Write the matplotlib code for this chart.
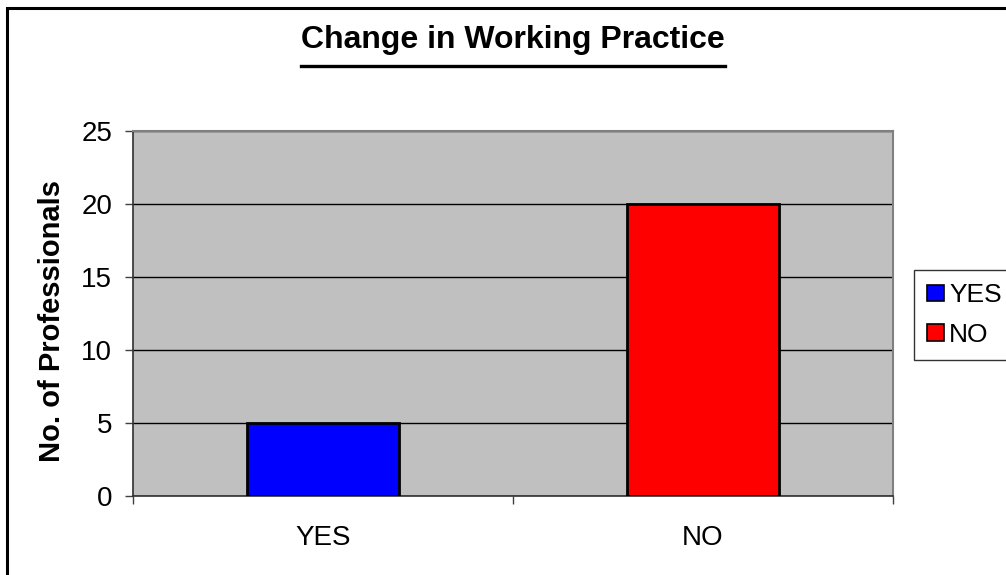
import matplotlib
matplotlib.use("Agg")
import matplotlib.pyplot as plt
from matplotlib.lines import Line2D
from matplotlib.patches import Patch, Rectangle

plt.rcParams['font.family'] = ['Liberation Sans', 'DejaVu Sans']

categories = ['YES', 'NO']
counts = [5, 20]
bar_colors = ['#0000FF', '#FF0000']
y_ticks = [0, 5, 10, 15, 20, 25]

fig = plt.figure(figsize=(10.06, 5.75), dpi=100)

# outer chart border (runs off the right and bottom edges)
fig.patches.append(Rectangle((7 / 1006, -0.05), 1.1, 1 - 8 / 575 + 0.05,
                             transform=fig.transFigure, fill=False,
                             edgecolor='black', linewidth=2.2, clip_on=False))

ax = fig.add_axes([133 / 1006, 1 - 496 / 575, 760 / 1006, 365 / 575])
ax.set_facecolor('#C0C0C0')

x = range(len(categories))
ax.bar(x, counts, width=0.4, color=bar_colors, edgecolor='black',
       linewidth=2, zorder=3)

ax.set_xlim(-0.5, len(categories) - 0.5)
ax.set_ylim(0, 25)
ax.set_yticks(y_ticks)
ax.yaxis.grid(True, color='black', linewidth=1)
ax.set_axisbelow(True)

ax.set_xticks(list(x))
ax.set_xticklabels(categories)
ax.set_xticks([-0.5, 0.5, 1.5], minor=True)
ax.tick_params(axis='x', which='major', length=0, pad=21, labelsize=20)
ax.tick_params(axis='x', which='minor', length=6, width=1, direction='out',
               color='#404040')
ax.tick_params(axis='y', length=6, width=1, direction='out', pad=9,
               labelsize=20, color='#404040')

for side in ['left', 'bottom']:
    ax.spines[side].set_color('#303030')
    ax.spines[side].set_linewidth(1.2)
for side in ['top', 'right']:
    ax.spines[side].set_color('#808080')
    ax.spines[side].set_linewidth(1.5)

fig.text(52 / 1006, 1 - 321 / 575, 'No. of Professionals', rotation=90,
         ha='center', va='center', fontsize=21, fontweight='bold')

title = fig.text(513 / 1006, 1 - 48 / 575, 'Change in Working Practice',
                 ha='center', va='baseline', fontsize=23, fontweight='bold')

handles = [Patch(facecolor=c, edgecolor='black', linewidth=1.2)
           for c in bar_colors]
leg = fig.legend(handles, categories, loc='upper left',
                 bbox_to_anchor=(914 / 1006, 1 - 270 / 575),
                 fontsize=19, frameon=True, fancybox=False,
                 handlelength=0.62, handleheight=0.6, handletextpad=0.22,
                 labelspacing=0.58, borderpad=0.5, borderaxespad=0)
leg.get_frame().set_edgecolor('black')
leg.get_frame().set_linewidth(1)

# underline the title
fig.canvas.draw()
bb = title.get_window_extent()
uy = 1 - 66 / 575
fig.lines.append(Line2D([bb.x0 / 1006, bb.x1 / 1006], [uy, uy],
                        transform=fig.transFigure, color='black',
                        linewidth=2.4))

fig.savefig('out.png', dpi=100)
